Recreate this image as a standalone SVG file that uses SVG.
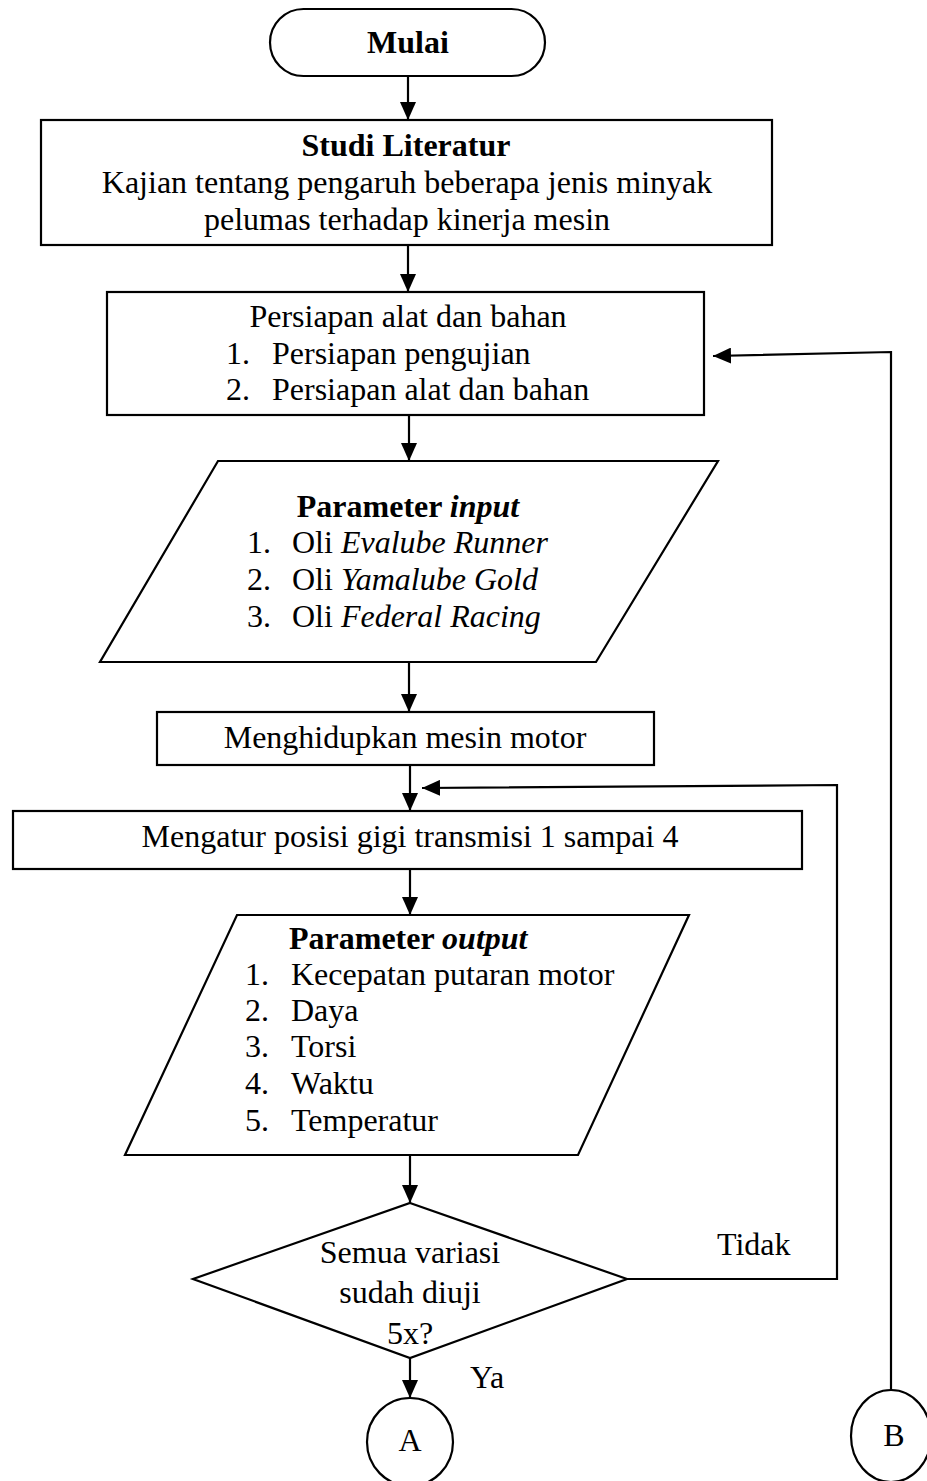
<svg xmlns="http://www.w3.org/2000/svg" width="927" height="1481" viewBox="0 0 927 1481">
<style>
.s{fill:#fff;stroke:#000;stroke-width:2.2}
.t{font-family:"Liberation Serif","Times New Roman",serif;font-size:32px;fill:#000}
.c{text-anchor:middle}
.b{font-weight:bold}
.i{font-style:italic}
.ln{fill:none;stroke:#000;stroke-width:2.2}
</style>
<defs>
<marker id="ah" markerUnits="userSpaceOnUse" markerWidth="18" markerHeight="16" refX="18" refY="8" orient="auto">
<path d="M0,0 L18,8 L0,16 z" fill="#000"/>
</marker>
</defs>
<rect width="927" height="1481" fill="#fff"/>
<g id="connectors">
<line class="ln" x1="408" y1="76" x2="408" y2="120" marker-end="url(#ah)"/>
<line class="ln" x1="408" y1="245" x2="408" y2="292" marker-end="url(#ah)"/>
<line class="ln" x1="409" y1="415" x2="409" y2="461" marker-end="url(#ah)"/>
<line class="ln" x1="409" y1="662" x2="409" y2="712" marker-end="url(#ah)"/>
<line class="ln" x1="410" y1="765" x2="410" y2="811" marker-end="url(#ah)"/>
<line class="ln" x1="410" y1="869" x2="410" y2="915" marker-end="url(#ah)"/>
<line class="ln" x1="410" y1="1155" x2="410" y2="1203" marker-end="url(#ah)"/>
<line class="ln" x1="410" y1="1358" x2="410" y2="1398" marker-end="url(#ah)"/>
<polyline class="ln" points="627,1279 837,1279 837,785 422,788" marker-end="url(#ah)"/>
<polyline class="ln" points="891,1390 891,352 713,356" marker-end="url(#ah)"/>
</g>
<g id="mulai">
<rect class="s" x="270" y="9" width="275" height="67" rx="33.5"/>
<text class="t c b" x="408" y="53">Mulai</text>
</g>
<g id="studi">
<rect class="s" x="41" y="120" width="731" height="125"/>
<text class="t c b" x="406" y="156">Studi Literatur</text>
<text class="t c" x="407" y="193">Kajian tentang pengaruh beberapa jenis minyak</text>
<text class="t c" x="407" y="230">pelumas terhadap kinerja mesin</text>
</g>
<g id="persiapan">
<rect class="s" x="107" y="292" width="597" height="123"/>
<text class="t c" x="408" y="327">Persiapan alat dan bahan</text>
<text class="t" x="226" y="364">1.</text>
<text class="t" x="272" y="364">Persiapan pengujian</text>
<text class="t" x="226" y="400">2.</text>
<text class="t" x="272" y="400">Persiapan alat dan bahan</text>
</g>
<g id="input">
<polygon class="s" points="218,461 718,461 596,662 100,662"/>
<text class="t c b" x="408" y="517">Parameter <tspan class="i">input</tspan></text>
<text class="t" x="247" y="553">1.</text>
<text class="t" x="292" y="553">Oli <tspan class="i">Evalube Runner</tspan></text>
<text class="t" x="247" y="590">2.</text>
<text class="t" x="292" y="590">Oli <tspan class="i">Yamalube Gold</tspan></text>
<text class="t" x="247" y="627">3.</text>
<text class="t" x="292" y="627">Oli <tspan class="i">Federal Racing</tspan></text>
</g>
<g id="menghidupkan">
<rect class="s" x="157" y="712" width="497" height="53"/>
<text class="t c" x="405" y="748">Menghidupkan mesin motor</text>
</g>
<g id="mengatur">
<rect class="s" x="13" y="811" width="789" height="58"/>
<text class="t c" x="410" y="847">Mengatur posisi gigi transmisi 1 sampai 4</text>
</g>
<g id="output">
<polygon class="s" points="237,915 689,915 578,1155 125,1155"/>
<text class="t b" x="289" y="949">Parameter <tspan class="i">output</tspan></text>
<text class="t" x="245" y="985">1.</text>
<text class="t" x="291" y="985">Kecepatan putaran motor</text>
<text class="t" x="245" y="1021">2.</text>
<text class="t" x="291" y="1021">Daya</text>
<text class="t" x="245" y="1057">3.</text>
<text class="t" x="291" y="1057">Torsi</text>
<text class="t" x="245" y="1094">4.</text>
<text class="t" x="291" y="1094">Waktu</text>
<text class="t" x="245" y="1131">5.</text>
<text class="t" x="291" y="1131">Temperatur</text>
</g>
<g id="decision">
<polygon class="s" points="410,1203 627,1279 410,1358 193,1279"/>
<text class="t c" x="410" y="1263">Semua variasi</text>
<text class="t c" x="410" y="1303">sudah diuji</text>
<text class="t c" x="410" y="1344">5x?</text>
</g>
<g id="label-tidak">
<text class="t" x="717" y="1255">Tidak</text>
</g>
<g id="label-ya">
<text class="t" x="470" y="1388">Ya</text>
</g>
<g id="connector-a">
<ellipse class="s" cx="410" cy="1442" rx="43" ry="44"/>
<text class="t c" x="410" y="1451">A</text>
</g>
<g id="connector-b">
<ellipse class="s" cx="891" cy="1436" rx="40" ry="46"/>
<text class="t c" x="894" y="1446">B</text>
</g>
</svg>
